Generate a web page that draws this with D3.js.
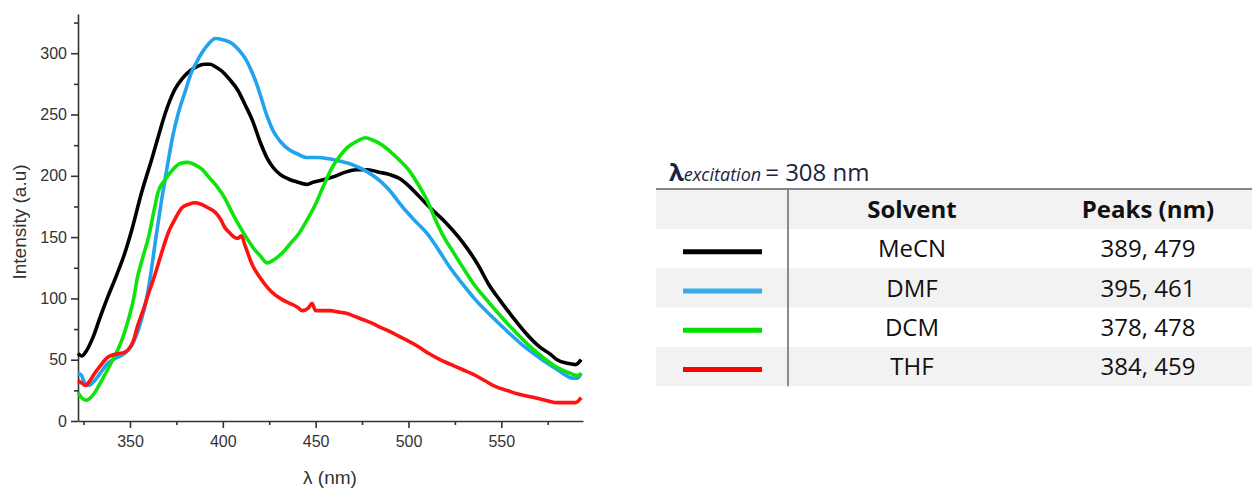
<!DOCTYPE html>
<html>
<head>
<meta charset="utf-8">
<script src="https://cdn.jsdelivr.net/npm/d3@7"></script>
<style>
  body { margin: 0; background: #fff; }
  svg { display: block; }
</style>
</head>
<body>
<svg id="fig" width="1252" height="490"></svg>
<script>
// emission spectra, [wavelength nm, intensity a.u]
var mecn = [[322,55],[324,53],[326,56],[330,68],[334,85],[338,101],[342,116],[347,136],[351,156],[356,185],[362,215],[366,236],[369,251],[374,270],[378,279],[381,284],[386,289],[390,291],[393,291],[396,289],[399,286],[404,278],[408,270],[412,258],[416,245],[420,228],[424,214],[427,207],[431,201],[436,197],[440,195],[445,193],[449,195],[452,196],[457,198],[461,200],[466,203],[472,205],[478,205],[484,203],[490,201],[495,198],[500,192],[504,186],[509,178],[513,172],[520,162],[527,150],[532,140],[538,126],[543,112],[549,99],[556,85],[563,72],[571,60],[576,55],[580,50],[586,47],[590,46],[593,50]];
var dmf = [[322,39],[324,37],[325,33],[327,29],[329,30],[331,33],[334,39],[338,47],[342,51],[347,55],[350,60],[352,65],[354,72],[356,82],[359,100],[361,118],[364,150],[367,180],[370,207],[373,232],[376,251],[380,270],[383,284],[386,293],[389,301],[392,307],[396,312],[400,311],[405,308],[409,302],[412,296],[415,287],[418,276],[421,262],[424,248],[427,237],[431,228],[436,221],[440,218],[445,215],[451,215],[457,214],[463,212],[468,210],[473,207],[477,204],[482,199],[486,194],[491,186],[495,178],[500,169],[505,161],[510,153],[516,140],[522,126],[529,112],[536,99],[545,85],[554,72],[563,60],[572,50],[580,42],[585,37],[588,35],[591,35],[593,39]];
var dcm = [[322,23],[324,19],[326,17],[328,18],[331,23],[334,31],[338,42],[341,51],[344,60],[347,72],[349,82],[352,100],[354,117],[357,134],[360,150],[363,172],[365,186],[369,197],[373,205],[377,210],[381,211],[385,209],[389,205],[393,198],[397,191],[401,182],[405,170],[409,159],[413,149],[416,142],[420,135],[424,129],[428,132],[432,137],[436,144],[441,153],[445,163],[450,177],[454,191],[459,207],[463,216],[467,223],[472,228],[477,231],[481,229],[486,225],[490,220],[495,213],[500,205],[504,196],[510,180],[514,166],[518,153],[524,138],[529,126],[535,112],[542,99],[550,85],[558,72],[566,60],[574,50],[581,43],[587,39],[591,37],[593,39]];
var thf = [[322,33],[324,31],[326,29],[328,32],[331,39],[334,45],[338,52],[341,54],[344,55],[347,56],[349,58],[352,66],[354,77],[357,90],[360,104],[364,122],[367,137],[371,155],[374,164],[378,174],[382,177],[385,178],[388,177],[392,174],[396,170],[399,164],[401,158],[404,153],[406,150],[408,149],[410,151],[412,143],[416,127],[420,117],[424,109],[428,103],[432,99],[436,96],[440,93],[443,90],[446,92],[448,96],[450,90],[454,90],[458,90],[462,89],[466,88],[470,86],[475,83],[480,80],[484,77],[490,73],[495,69],[499,66],[505,61],[511,55],[517,50],[523,46],[529,42],[535,38],[541,33],[547,28],[553,25],[559,22],[565,20],[571,18],[576,16],[580,15],[586,15],[590,15],[593,19]];

var solvents = ["MeCN", "DMF", "DCM", "THF"];
var peaks = ["389, 479", "395, 461", "378, 478", "384, 459"];
var colors = ["#000000", "#22a3ee", "#0ee30e", "#ff1212"];
var legendColors = ["#000000", "#3aabea", "#00e000", "#ff0000"];

var yTicks = [0, 50, 100, 150, 200, 250, 300];
var yMinor = [25, 75, 125, 175, 225, 275, 325];
var xTicks = [350, 400, 450, 500, 550];
var xMinor = [325, 375, 425, 475, 525, 575];

var svg = d3.select("#fig");

// ---- spectrum plot ----
var x = d3.scaleLinear().domain([322, 594]).range([78, 583]);
var y = d3.scaleLinear().domain([0, 332]).range([421, 14]);

var axisCol = "#333";
var tickFont = "'Liberation Sans', Arial, sans-serif";

var gx = svg.append("g").attr("transform", "translate(0,421)")
    .call(d3.axisBottom(x).tickValues(xTicks).tickSize(7).tickSizeOuter(0).tickPadding(8));
var gxm = svg.append("g").attr("transform", "translate(0,421)")
    .call(d3.axisBottom(x).tickValues(xMinor).tickSize(4).tickFormat(""));
gxm.select(".domain").remove();

var gy = svg.append("g").attr("transform", "translate(78,0)")
    .call(d3.axisLeft(y).tickValues(yTicks).tickSize(7).tickSizeOuter(0).tickPadding(4));
var gym = svg.append("g").attr("transform", "translate(78,0)")
    .call(d3.axisLeft(y).tickValues(yMinor).tickSize(4).tickFormat(""));
gym.select(".domain").remove();

svg.selectAll(".domain, .tick line").attr("stroke", axisCol).attr("stroke-width", 1.6);
svg.selectAll(".tick text")
    .attr("fill", "#333")
    .style("font-family", tickFont)
    .style("font-size", "16px");

svg.append("text")
    .attr("x", 330).attr("y", 484)
    .attr("text-anchor", "middle")
    .attr("fill", "#333")
    .style("font-family", tickFont)
    .style("font-size", "19px")
    .text("λ (nm)");

svg.append("text")
    .attr("transform", "translate(26,222) rotate(-90)")
    .attr("text-anchor", "middle")
    .attr("fill", "#333")
    .style("font-family", tickFont)
    .style("font-size", "19px")
    .text("Intensity (a.u)");

var line = d3.line()
    .x(d => x(d[0]))
    .y(d => y(d[1]))
    .curve(d3.curveMonotoneX);

var series = [mecn, dmf, dcm, thf];
svg.append("g").selectAll("path")
    .data(series)
    .join("path")
    .attr("d", d => line(d))
    .attr("fill", "none")
    .attr("stroke", (d, i) => colors[i])
    .attr("stroke-width", 3.6)
    .attr("stroke-linejoin", "round");

// ---- table ----
var tFont = "'Open Sans', 'Noto Sans', sans-serif";
var tLeft = 656, tRight = 1252, tTop = 189, headH = 40, rowH = 39.3;
var divX = 788;
var colSolvent = 912, colPeaks = 1148;

var title = svg.append("text")
    .attr("x", 669).attr("y", 181)
    .attr("fill", "#1c2340")
    .style("font-family", tFont);
title.append("tspan").style("font-size", "24px").style("font-weight", "bold").text("λ");
title.append("tspan").style("font-size", "18px").style("font-style", "italic").text("excitation");
title.append("tspan").style("font-size", "24px").attr("dx", 4).text("= 308 nm");

svg.append("rect")
    .attr("x", tLeft).attr("y", tTop)
    .attr("width", tRight - tLeft).attr("height", headH)
    .attr("fill", "#f2f2f2");

var rowY = (i) => tTop + headH + i * rowH;

svg.append("g").selectAll("rect")
    .data(solvents)
    .join("rect")
    .attr("x", tLeft)
    .attr("y", (d, i) => rowY(i))
    .attr("width", tRight - tLeft)
    .attr("height", rowH)
    .attr("fill", (d, i) => i % 2 ? "#f2f2f2" : "#fff");

svg.append("line")
    .attr("x1", tLeft).attr("x2", tRight)
    .attr("y1", tTop).attr("y2", tTop)
    .attr("stroke", "#858585").attr("stroke-width", 2.2);

svg.append("line")
    .attr("x1", divX).attr("x2", divX)
    .attr("y1", tTop).attr("y2", rowY(4))
    .attr("stroke", "#707070").attr("stroke-width", 1.6);

// header
[["Solvent", colSolvent], ["Peaks (nm)", colPeaks]].forEach(function(h) {
    svg.append("text")
        .attr("x", h[1]).attr("y", tTop + headH / 2)
        .attr("dy", "0.36em")
        .attr("text-anchor", "middle")
        .attr("fill", "#111")
        .style("font-family", tFont)
        .style("font-size", "24px")
        .style("font-weight", "bold")
        .text(h[0]);
});

var rows = svg.append("g").selectAll("g")
    .data(solvents)
    .join("g")
    .attr("transform", (d, i) => `translate(0,${rowY(i) + rowH / 2})`);

rows.append("line")
    .attr("x1", 683).attr("x2", 762)
    .attr("y1", 3).attr("y2", 3)
    .attr("stroke", (d, i) => legendColors[i])
    .attr("stroke-width", 5);

rows.append("text")
    .attr("x", colSolvent).attr("dy", "0.36em")
    .attr("text-anchor", "middle")
    .attr("fill", "#111")
    .style("font-family", tFont)
    .style("font-size", "24px")
    .text(d => d);

rows.append("text")
    .attr("x", colPeaks).attr("dy", "0.36em")
    .attr("text-anchor", "middle")
    .attr("fill", "#111")
    .style("font-family", tFont)
    .style("font-size", "24px")
    .text((d, i) => peaks[i]);
</script>
</body>
</html>
